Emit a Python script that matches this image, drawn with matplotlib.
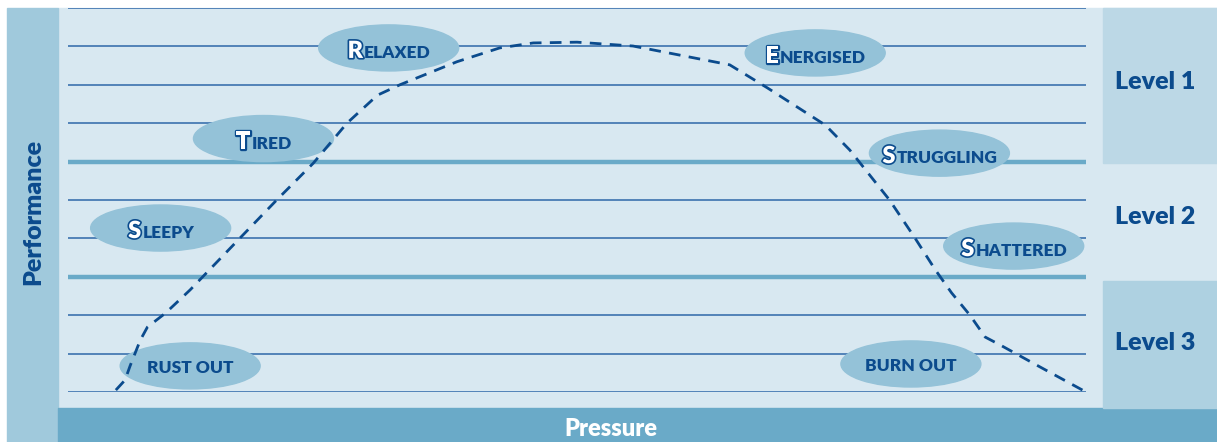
import matplotlib
matplotlib.use("Agg")
import matplotlib.pyplot as plt
from matplotlib.patches import Rectangle, Ellipse
from matplotlib import patheffects, transforms
import numpy as np

plt.rcParams['font.family'] = ['Lato', 'DejaVu Sans']

# pressure (0-100) vs performance (0-10)
pressure = [4.7, 5.6, 6.1, 7.1, 7.8, 9.6, 12.0, 16.9, 20.5, 24.1, 27.4, 30.4,
            32.6, 38.2, 42.4, 45.7, 50.0, 55.5, 65.0, 68.7, 74.4, 76.8, 80.7,
            83.2, 85.2, 86.8, 88.6, 90.1, 91.6, 95.5, 100.0]
performance = [0.05, 0.31, 0.68, 1.35, 1.69, 2.06, 2.66, 4.01, 5.0, 5.96, 7.0,
               7.73, 8.0, 8.6, 8.96, 9.09, 9.11, 9.01, 8.52, 7.92, 6.95, 6.3,
               5.0, 4.01, 3.18, 2.58, 2.0, 1.43, 1.22, 0.65, 0.0]

grid_levels = [0, 1, 2, 4, 5, 7, 8, 9, 10]
band_edges = [3, 6]

states = ["Relaxed", "Energised", "Tired", "Struggling", "Sleepy", "Shattered",
          "Rust out", "Burn out"]
state_x = [31.5, 73.4, 19.2, 85.6, 9.1, 92.9, 12.0, 82.8]
state_y = [8.96, 8.83, 6.6, 6.22, 4.27, 3.8, 0.68, 0.73]
small_caps = [True, True, True, True, True, True, False, False]

levels = ["Level 1", "Level 2", "Level 3"]

dark = '#0b4b8d'
W, H = 1217, 442
fig = plt.figure(figsize=(W / 100, H / 100), dpi=100)

# background panels, in pixel coordinates
bg = fig.add_axes([0, 0, 1, 1])
bg.set_xlim(0, W)
bg.set_ylim(H, 0)
bg.axis('off')
bg.add_patch(Rectangle((58, 8), W - 58, 400, color='#d8e8f1'))
bg.add_patch(Rectangle((7, 8), 51, H - 8, color='#a0c9dc'))
bg.add_patch(Rectangle((58, 408), W - 58, 34, color='#6aaac8'))
bg.add_patch(Rectangle((1103, 8), W - 1103, 155, color='#bcd8e6'))
bg.add_patch(Rectangle((1103, 281), W - 1103, 127, color='#aed1e1'))
bg.text(33, 212, "Performance", rotation=90, ha='center', va='center',
        color=dark, fontsize=18, fontweight='heavy')
bg.text(611, 429, "Pressure", ha='center', va='center', color='white',
        fontsize=17, fontweight='heavy')
for lab, yy in zip(levels, [82, 217, 343]):
    bg.text(1155, yy, lab, ha='center', va='center', color=dark,
            fontsize=18, fontweight='heavy')

# main chart
ax = fig.add_axes([68 / W, 50 / H, 1018 / W, 384 / H])
ax.set_xlim(0, 100)
ax.set_ylim(0, 10)
ax.axis('off')
ax.patch.set_alpha(0)

ax.hlines(grid_levels, 0, 100, color='#2e68a8', lw=1.1)
ax.hlines(band_edges, 0, 100, color='#6aaac8', lw=3.2)
ax.plot(pressure, performance, color=dark, lw=2.0, ls=(0, (4.2, 3.0)), zorder=5,
        clip_on=False)

renderer = fig.canvas.get_renderer()
outline = [patheffects.withStroke(linewidth=2.4, foreground=dark)]
for name, x, y, sc in zip(states, state_x, state_y, small_caps):
    ax.add_patch(Ellipse((x, y), 13.75, 1.2, color='#94c2d8', zorder=3,
                         clip_on=False))
    if not sc:
        ax.text(x, y - 0.05, name.upper(), ha='center', va='center',
                color=dark, fontsize=12.5, fontweight='heavy', zorder=6)
        continue
    first = ax.text(x, y, name[0], fontsize=17, fontweight='heavy',
                    color='white', path_effects=outline, zorder=6,
                    va='baseline', ha='left')
    rest = ax.text(x, y, name[1:].upper(), fontsize=12.5, fontweight='heavy',
                   color=dark, zorder=6, va='baseline', ha='left')
    w1 = first.get_window_extent(renderer).width
    w2 = rest.get_window_extent(renderer).width
    x0 = -(w1 + w2) / 2
    first.set_transform(transforms.offset_copy(ax.transData, fig=fig,
                                               x=x0, y=-10, units='dots'))
    rest.set_transform(transforms.offset_copy(ax.transData, fig=fig,
                                              x=x0 + w1 + 1, y=-10, units='dots'))

fig.savefig('out.png', dpi=100)
